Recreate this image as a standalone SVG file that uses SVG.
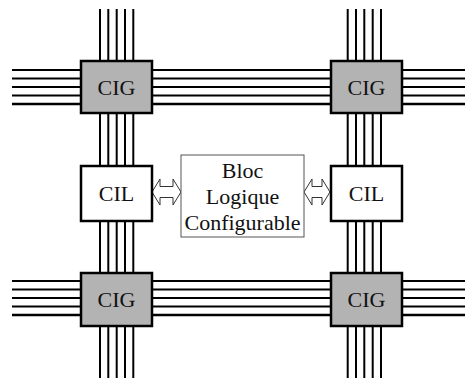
<svg xmlns="http://www.w3.org/2000/svg" width="465" height="378" viewBox="0 0 465 378">
<style>
.w{stroke:#000;stroke-width:2;fill:none}
.wt{stroke:#000;stroke-width:2.6;fill:none}
.cig{fill:#b3b3b3;stroke:#000;stroke-width:2.5}
.cil{fill:#fff;stroke:#000;stroke-width:2.5}
.blc{fill:#fff;stroke:#555;stroke-width:1}
.arr{fill:#fff;stroke:#333;stroke-width:1}
.t{font-family:"Liberation Serif","Times New Roman",serif;font-size:22px;fill:#111;text-anchor:middle}
</style>
<rect width="465" height="378" fill="#fff"/>
<g id="connectors">
<!-- horizontal top bus -->
<path class="w" d="M12,70H465M12,78.5H465M12,87H465M12,95.5H465"/>
<path class="wt" d="M12,104H465"/>
<!-- horizontal bottom bus -->
<path class="w" d="M12,281H465M12,289.5H465M12,298H465M12,306.5H465"/>
<path class="wt" d="M12,315H465"/>
<!-- left vertical bus -->
<path class="w" d="M100,9V378M108.3,9V378M116.7,9V378M125,9V378M133.3,9V378"/>
<!-- right vertical bus -->
<path class="w" d="M347.7,9V378M356,9V378M364.3,9V378M372.7,9V378M381,9V378"/>
<!-- double arrows -->
<path class="arr" d="M152,192L160,179L160,186.5L173,186.5L173,179L181,192L173,205L173,197.5L160,197.5L160,205Z"/>
<path class="arr" d="M304,192L312,179L312,186.5L322,186.5L322,179L330,192L322,205L322,197.5L312,197.5L312,205Z"/>
</g>
<g id="cig-tl"><rect class="cig" x="81" y="61" width="71" height="52"/><text class="t" x="116.5" y="95">CIG</text></g>
<g id="cig-tr"><rect class="cig" x="331" y="61" width="71" height="52"/><text class="t" x="366.5" y="95">CIG</text></g>
<g id="cig-bl"><rect class="cig" x="81" y="273" width="71" height="53"/><text class="t" x="116.5" y="307">CIG</text></g>
<g id="cig-br"><rect class="cig" x="331" y="273" width="71" height="53"/><text class="t" x="366.5" y="307">CIG</text></g>
<g id="cil-l"><rect class="cil" x="81" y="166" width="71" height="55"/><text class="t" x="116.5" y="201">CIL</text></g>
<g id="cil-r"><rect class="cil" x="331" y="166" width="71" height="55"/><text class="t" x="366.5" y="201">CIL</text></g>
<g id="blc"><rect class="blc" x="181" y="155" width="123" height="82"/>
<text class="t" x="242.5" y="178">Bloc</text>
<text class="t" x="242.5" y="204">Logique</text>
<text class="t" x="242.5" y="230">Configurable</text></g>
</svg>
